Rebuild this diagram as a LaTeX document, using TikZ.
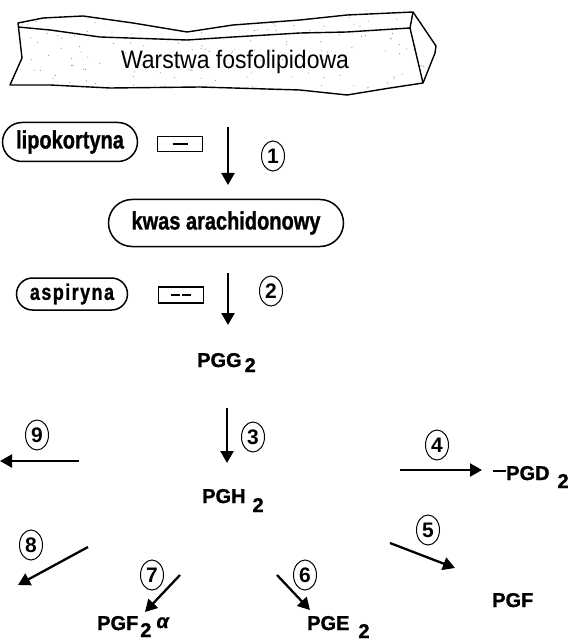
\documentclass[tikz,border=0pt]{standalone}
\usepackage{fontspec}
\setmainfont{Liberation Sans}
\usetikzlibrary{shapes.misc,shapes.geometric,arrows.meta}
\newcommand{\tallbox}[1]{\scalebox{1}[1.25]{#1}}
\begin{document}
\begin{tikzpicture}[x=1pt,y=-1pt,
  pill/.style={rounded rectangle, draw, line width=1.5pt, inner sep=0pt,
    font=\fontsize{20}{20}\selectfont\bfseries\addfontfeature{FakeBold=1.2}},
  inhbox/.style={draw, line width=1.2pt, minimum width=45pt, minimum height=15pt, inner sep=0pt},
  num/.style={ellipse, draw, line width=1pt, inner sep=0pt, minimum width=23pt, minimum height=30pt,
    font=\fontsize{21}{21}\selectfont\bfseries},
  lab/.style={anchor=base west, inner sep=0pt, font=\fontsize{20}{20}\selectfont\bfseries\addfontfeature{FakeBold=1.2}},
  arr/.style={line width=2.3pt, -{Triangle[length=12pt,width=13pt]}},
  edge/.style={line width=1.4pt, line join=round}
]
\useasboundingbox (0,0) rectangle (572,644);

% ---- banner (phospholipid layer)
\begin{scope}
  \clip (18,23) -- (43,18) -- (83,16) -- (133,23) -- (187,32) -- (233,25) -- (300,20) -- (347,15) -- (413,12)
        -- (436,46) -- (423,83) -- (390,88) -- (347,95) -- (300,90) -- (200,87) -- (110,88) -- (50,85) -- (10,85)
        -- (22,58) -- cycle;
  \pgfmathsetseed{7}
  \foreach \i in {1,...,170}{
    \fill[gray!85] ({15+rnd*425},{12+rnd*85}) circle (0.6pt);
  }
\end{scope}
\draw[edge] (18,23) -- (43,18) -- (83,16) -- (133,23) -- (187,32) -- (233,25) -- (300,20) -- (347,15) -- (413,12)
        -- (436,46) -- (435,53) -- (423,83) -- (390,88) -- (347,95) -- (300,90) -- (200,87) -- (110,88) -- (50,85) -- (10,85)
        -- (22,58) -- cycle;
\draw[edge] (18,27) -- (50,30) -- (100,37) -- (187,40) -- (233,37) -- (300,33) -- (347,32) -- (410,28) -- (423,83);
\draw[edge] (410,28) -- (413,12);
\node[inner sep=0pt, font=\fontsize{23}{23}\selectfont] (layer) at (235,62) {\scalebox{1}[1.1]{Warstwa fosfolipidowa}};

% ---- nodes
\node[pill, minimum width=135pt, minimum height=39pt] (lipo) at (70,142) {\tallbox{lipokortyna}};
\node[inhbox] (box1) at (180,144) {\rule[-0.6pt]{15pt}{1.3pt}};
\node[pill, minimum width=235pt, minimum height=47pt] (kwas) at (226,223) {\tallbox{kwas arachidonowy}};
\node[pill, minimum width=111pt, minimum height=32pt,
  font=\fontsize{18}{18}\selectfont\bfseries\addfontfeature{LetterSpace=8,FakeBold=1.2}] (asp) at (72,294) {\tallbox{aspiryna}};
\node[inhbox, minimum height=16pt] (box2) at (181,295) {\rule[-0.6pt]{9pt}{1.2pt}\hspace{2pt}\rule[-0.6pt]{9pt}{1.2pt}};

\node[lab] (pgg) at (197,367) {PGG\hspace{3pt}\raisebox{-5pt}{2}};
\node[lab] (pgh) at (202,503) {PGH\hspace{7pt}\raisebox{-9pt}{2}};
\node[lab] (pgd) at (493,480) {\rule[8pt]{13pt}{2pt}PGD\hspace{8pt}\raisebox{-8pt}{2}};
\node[lab] (pgf) at (492,607) {PGF};
\node[lab] (pgfa) at (97,630) {PGF\hspace{2pt}\raisebox{-7pt}{2}\hspace{5pt}\raisebox{2pt}{\itshape α}};
\node[lab] (pge) at (307,630) {PGE\hspace{9pt}\raisebox{-8pt}{2}};

% ---- step numbers
\node[num] (n1) at (273,156) {1};
\node[num] (n2) at (271,291) {2};
\node[num] (n3) at (253,437) {3};
\node[num] (n4) at (437,445) {4};
\node[num] (n5) at (428,530) {5};
\node[num] (n6) at (305,575) {6};
\node[num] (n7) at (152,575) {7};
\node[num] (n8) at (31,545) {8};
\node[num] (n9) at (37,435) {9};

% ---- arrow end points
\coordinate (a1s) at (228,127); \coordinate (a1e) at (228,185);
\coordinate (a2s) at (228,273); \coordinate (a2e) at (228,325);
\coordinate (a3s) at (227,408); \coordinate (a3e) at (227,463);
\coordinate (a4s) at (400,470); \coordinate (a4e) at (482,470);
\coordinate (a5s) at (390,543); \coordinate (a5e) at (455,568);
\coordinate (a6s) at (277,575); \coordinate (a6e) at (310,610);
\coordinate (a7s) at (180,575); \coordinate (a7e) at (145,612);
\coordinate (a8s) at (88,547);  \coordinate (a8e) at (18,585);
\coordinate (a9s) at (79,461);  \coordinate (a9e) at (0,461);

\draw[arr] (a1s) -- (a1e);
\draw[arr] (a2s) -- (a2e);
\draw[arr] (a3s) -- (a3e);
\draw[arr] (a4s) -- (a4e);
\draw[arr] (a5s) -- (a5e);
\draw[arr] (a6s) -- (a6e);
\draw[arr] (a7s) -- (a7e);
\draw[arr] (a8s) -- (a8e);
\draw[arr] (a9s) -- (a9e);
\end{tikzpicture}
\end{document}
